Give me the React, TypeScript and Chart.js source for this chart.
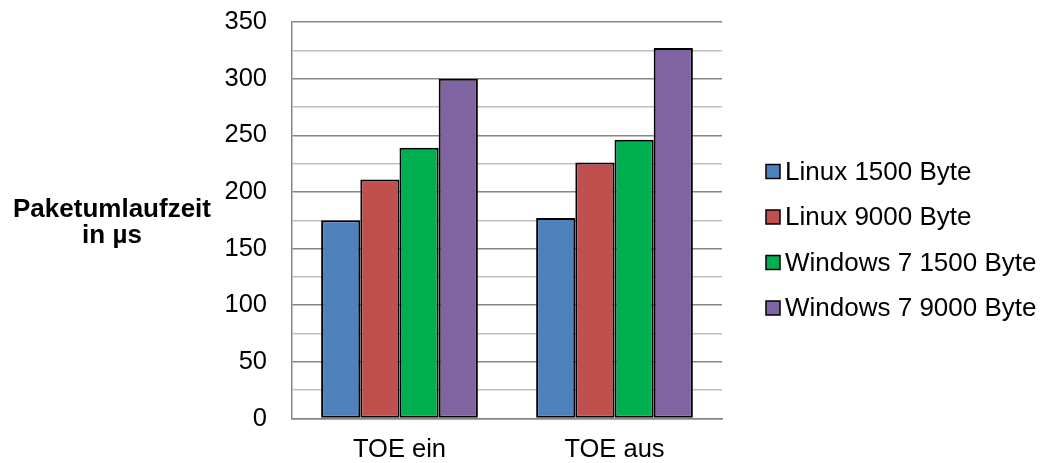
import { useEffect, useRef } from "react";
import { Chart, registerables } from "chart.js";

Chart.register(...registerables);

// Round-trip times in microseconds per TOE setting
const categories = ["TOE ein", "TOE aus"];
const seriesNames = [
  "Linux 1500 Byte",
  "Linux 9000 Byte",
  "Windows 7 1500 Byte",
  "Windows 7 9000 Byte",
];
const linux1500 = [175, 177];
const linux9000 = [211, 226];
const windows1500 = [239, 246];
const windows9000 = [300, 327];
const seriesValues = [linux1500, linux9000, windows1500, windows9000];
const seriesColors = ["#4F81BD", "#C0504D", "#00B050", "#8064A2"];
const yAxisTitle = ["Paketumlaufzeit", "in µs"];
const yMin = 0;
const yMax = 350;
const yMinorStep = 25;
const yMajorStep = 50;

const FONT = '"Liberation Sans", Arial, sans-serif';
const MAJOR_GRID = "#868686";
const MINOR_GRID = "#BFBFBF";

// Draws the two-line axis caption on the left and the vertical legend on the right
const sideTextPlugin = {
  id: "sideText",
  afterDraw(chart: any) {
    const ctx: CanvasRenderingContext2D = chart.ctx;
    const area = chart.chartArea;
    ctx.save();

    ctx.fillStyle = "#000";
    ctx.font = `bold 26px ${FONT}`;
    ctx.textAlign = "center";
    ctx.textBaseline = "alphabetic";
    yAxisTitle.forEach((line, i) => {
      ctx.fillText(line, 112, 217 + i * 26);
    });

    const boxX = area.right + 44;
    const boxSize = 14;
    ctx.font = `26px ${FONT}`;
    ctx.textAlign = "left";
    ctx.textBaseline = "middle";
    chart.data.datasets.forEach((ds: any, i: number) => {
      const cy = 171.5 + i * 45.5;
      ctx.fillStyle = ds.backgroundColor;
      ctx.fillRect(boxX, cy - boxSize / 2, boxSize, boxSize);
      ctx.strokeStyle = "#000";
      ctx.lineWidth = 1.5;
      ctx.strokeRect(boxX, cy - boxSize / 2, boxSize, boxSize);
      ctx.fillStyle = "#000";
      ctx.fillText(ds.label, boxX + boxSize + 5, cy + 1);
    });

    ctx.restore();
  },
};

export default function App() {
  const canvasRef = useRef<HTMLCanvasElement | null>(null);

  useEffect(() => {
    const canvas = canvasRef.current;
    if (!canvas) return;

    const chart = new Chart(canvas, {
      type: "bar",
      data: {
        labels: categories,
        datasets: seriesNames.map((name, i) => ({
          label: name,
          data: seriesValues[i],
          backgroundColor: seriesColors[i],
          borderColor: "#000",
          borderWidth: 2,
          borderSkipped: false,
          categoryPercentage: 0.729,
          barPercentage: 1,
        })),
      },
      options: {
        responsive: false,
        animation: false,
        layout: { padding: { top: 22, right: 320, left: 0, bottom: 0 } },
        plugins: {
          legend: { display: false },
          tooltip: { enabled: false },
        },
        scales: {
          x: {
            grid: { display: false, drawTicks: false },
            border: { color: MAJOR_GRID, width: 1.5 },
            ticks: {
              color: "#000",
              font: { family: FONT, size: 25.5 },
              padding: 16,
            },
            afterFit: (scale: any) => {
              scale.height = 44.5;
            },
          },
          y: {
            min: yMin,
            max: yMax,
            grid: {
              drawTicks: false,
              lineWidth: 1.5,
              color: (ctx: any) =>
                ctx.tick && ctx.tick.value % yMajorStep === 0 ? MAJOR_GRID : MINOR_GRID,
            },
            border: { color: MAJOR_GRID, width: 1.5 },
            ticks: {
              stepSize: yMinorStep,
              autoSkip: false,
              color: "#000",
              font: { family: FONT, size: 25.5 },
              padding: 25,
              callback: (value: any) =>
                Number(value) % yMajorStep === 0 ? String(value) : "",
            },
            afterFit: (scale: any) => {
              scale.width = 292;
              scale.paddingTop = 0;
              scale.paddingBottom = 0;
            },
          },
        },
      },
      plugins: [sideTextPlugin],
    });

    return () => chart.destroy();
  }, []);

  return (
    <div style={{ position: "absolute", left: 0, top: 0, width: 1042, height: 463, background: "#fff" }}>
      <canvas ref={canvasRef} width={1042} height={463} />
    </div>
  );
}
